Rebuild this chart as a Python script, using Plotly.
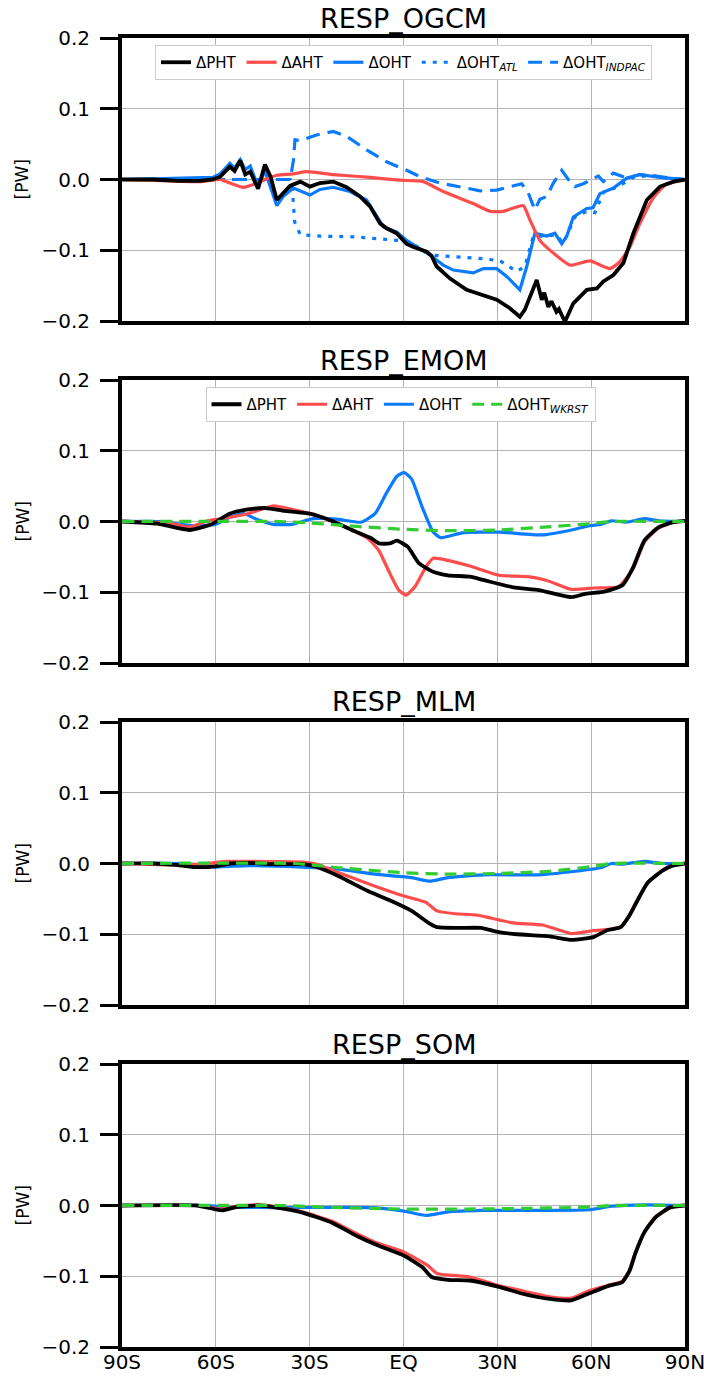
import plotly.graph_objects as go

# ---------------- data ----------------
# Panel 1: RESP_OGCM
ogcm_pht_lat = [-90, -80, -72, -65, -61, -58.6, -55.5, -54, -52.2, -50.6, -49, -46.5, -44.3, -42.5, -40.5, -38.5,
                -36.3, -33, -29.9, -26.7, -22.5, -18.2, -13.9, -10.7, -7.5, -5.4, -2.2, 1, 3, 7.4, 9, 10.6, 14.9,
                20.2, 23.9, 29.8, 34, 37.2, 38.8, 40.4, 42.6, 44.2, 45, 46.3, 47.3, 48.9, 49.7, 51.6, 54.3, 58.6,
                61.8, 63.9, 67.1, 70.3, 73.5, 77.8, 82, 86.3, 90]
ogcm_pht_val = [0, 0, -0.002, -0.002, 0.0, 0.004, 0.018, 0.012, 0.027, 0.007, 0.011, -0.013, 0.021, 0.004, -0.029,
                -0.019, -0.009, -0.003, -0.010, -0.005, -0.003, -0.011, -0.024, -0.038, -0.062, -0.069, -0.076,
                -0.091, -0.095, -0.102, -0.108, -0.123, -0.140, -0.156, -0.161, -0.170, -0.182, -0.194, -0.184,
                -0.166, -0.142, -0.170, -0.160, -0.180, -0.172, -0.187, -0.183, -0.201, -0.175, -0.156, -0.154,
                -0.144, -0.135, -0.118, -0.076, -0.029, -0.010, -0.003, 0]

ogcm_aht_lat = [-90, -75, -65, -58.6, -55.5, -51.2, -48, -43.7, -40.5, -35.2, -30.9, -22.5, -10.7, -1.1, 6.3, 12.7,
                22.3, 27.7, 31.9, 38.3, 40.4, 43.6, 47.9, 53.2, 59.6, 66, 69.2, 72.4, 75.6, 80, 84, 90]
ogcm_aht_val = [0, -0.002, -0.003, 0.0, -0.005, -0.011, -0.007, 0.001, 0.006, 0.008, 0.011, 0.007, 0.003, -0.001,
                -0.003, -0.017, -0.034, -0.045, -0.045, -0.037, -0.057, -0.086, -0.104, -0.121, -0.115, -0.126,
                -0.116, -0.095, -0.062, -0.025, -0.007, 0]

ogcm_oht_lat = [-90, -75, -61, -58.6, -55.5, -54, -52.2, -50.6, -49, -46.5, -44.3, -40.5, -38.5, -35.2, -29.9, -26.7,
                -22.5, -17.1, -11.8, -6.4, -2.2, 1, 8.5, 12.7, 15.9, 22.3, 25.5, 29.8, 33, 37.2, 39.4, 42, 45.8,
                48.4, 50.6, 52.2, 54.3, 58.6, 60.6, 62.8, 67.1, 71.4, 75.6, 82, 90]
ogcm_oht_val = [0, 0.002, 0.003, 0.008, 0.023, 0.016, 0.028, 0.014, 0.019, -0.010, 0.012, -0.037, -0.024, -0.012,
                -0.022, -0.014, -0.011, -0.017, -0.029, -0.067, -0.074, -0.086, -0.107, -0.121, -0.128, -0.132,
                -0.126, -0.126, -0.137, -0.156, -0.123, -0.076, -0.080, -0.076, -0.091, -0.080, -0.053, -0.041,
                -0.040, -0.020, -0.012, 0.002, 0.007, 0.003, 0]

ogcm_atl_lat = [-90, -36.2, -35.5, -34.8, -33, -26.7, -16, -5.4, 1, 9.5, 15.9, 25.5, 30.9, 36.2, 38.8, 41.5, 45.8,
                48.9, 51, 52.7, 54.8, 58.6, 61.2, 63.9, 68.2, 73.5, 78.9, 84, 90]
ogcm_atl_val = [0, 0, -0.015, -0.060, -0.078, -0.080, -0.081, -0.085, -0.087, -0.107, -0.109, -0.112, -0.115,
                -0.130, -0.123, -0.080, -0.080, -0.078, -0.090, -0.075, -0.053, -0.045, -0.047, -0.018, -0.011,
                0.003, 0.006, 0.002, 0]

ogcm_indpac_lat = [-90, -36.2, -35.2, -34.7, -33, -27.8, -22.5, -18.2, -11.8, -5.4, 1, 5.3, 11.7, 18.1, 24.5, 29.8,
                   35.1, 37.8, 39.9, 42, 43.6, 45.8, 47.9, 50.6, 52.7, 54.8, 57.5, 60.1, 62.3, 63.9, 67.1, 71.4,
                   75.6, 82, 90]
ogcm_indpac_val = [0, 0, 0.027, 0.056, 0.055, 0.063, 0.068, 0.061, 0.042, 0.025, 0.013, 0.004, -0.005, -0.011,
                   -0.016, -0.015, -0.009, -0.006, -0.019, -0.043, -0.028, -0.024, -0.005, 0.013, 0.0, -0.010,
                   -0.006, 0.0, 0.005, -0.003, 0.009, 0.002, 0.007, 0.004, 0]

# Panel 2: RESP_EMOM
emom_pht_lat = [-90, -78.8, -68.4, -61.4, -55.6, -49.8, -44, -38.1, -30, -23, -16, -10.2, -7.9, -4.4, -2.1, 1.4, 4.9,
                9.5, 14.2, 21.2, 25.8, 35.1, 43.3, 49.1, 53.7, 58.4, 64.2, 70, 73.5, 77, 81.6, 86.3, 90]
emom_pht_val = [0, -0.003, -0.012, -0.004, 0.011, 0.017, 0.019, 0.015, 0.011, 0.001, -0.013, -0.024, -0.031, -0.031,
                -0.027, -0.036, -0.059, -0.071, -0.076, -0.078, -0.083, -0.093, -0.097, -0.103, -0.107, -0.102,
                -0.099, -0.090, -0.064, -0.027, -0.008, -0.001, 0.001]

emom_aht_lat = [-90, -75, -68.4, -62.6, -55.6, -49.8, -41.6, -34.7, -27.7, -19.5, -11.4, -7.9, -4.4, -1.5, 0.8, 3.7,
                7.2, 9.5, 14.2, 21.2, 30.5, 39.8, 45.6, 53.7, 60.7, 68.8, 73.5, 77, 81.6, 86.3, 90]
emom_aht_val = [0, -0.002, -0.008, 0.001, 0.006, 0.011, 0.022, 0.016, 0.008, -0.006, -0.024, -0.041, -0.073, -0.097,
                -0.104, -0.092, -0.064, -0.052, -0.055, -0.063, -0.076, -0.078, -0.083, -0.096, -0.094, -0.092,
                -0.066, -0.029, -0.009, -0.001, 0.001]

emom_oht_lat = [-90, -78, -67.2, -60.2, -55.6, -50.9, -47.4, -41.6, -35.8, -28.8, -20.7, -13.7, -9.1, -5.6, -2.1, 0.2,
                2.6, 6, 9.5, 11.9, 18.8, 30.5, 44.4, 52.6, 59.5, 63, 66.5, 71.2, 77, 81.6, 90]
emom_oht_val = [0, 0, -0.006, -0.004, 0.006, 0.011, 0.004, -0.004, -0.004, 0.004, 0.003, -0.001, 0.011, 0.039, 0.064,
                0.069, 0.060, 0.020, -0.015, -0.023, -0.016, -0.015, -0.019, -0.013, -0.006, -0.004, 0.001, -0.001,
                0.004, 0.001, 0]

emom_wkrst_lat = [-90, -40, -30, -15, 0, 14, 30, 45, 60, 66, 90]
emom_wkrst_val = [0, 0, -0.002, -0.007, -0.011, -0.013, -0.012, -0.008, -0.003, 0, 0]

# Panel 3: RESP_MLM
mlm_pht_lat = [-90, -80, -73, -67.2, -60.2, -55.6, -49.8, -41.6, -32.3, -27.7, -20.7, -11.4, -4.4, 2.6, 8.4, 10.7,
               17.7, 24.7, 30.5, 36.3, 46.7, 53.7, 60.7, 65.3, 69.4, 72.3, 74.7, 78.1, 82.8, 86, 90]
mlm_pht_val = [0, 0, -0.002, -0.005, -0.004, 0.0, 0.001, -0.001, -0.001, -0.005, -0.018, -0.039, -0.052, -0.067,
               -0.085, -0.090, -0.091, -0.091, -0.097, -0.100, -0.103, -0.108, -0.104, -0.094, -0.090, -0.073,
               -0.053, -0.027, -0.010, -0.003, 0]

mlm_aht_lat = [-90, -75, -64.9, -56.7, -49.8, -32.3, -27.7, -20.7, -9.1, 0.2, 7.2, 10.7, 16.5, 23.5, 35.1, 44.4, 53.7,
               60.7, 67.7, 70, 72.3, 74.7, 78.1, 82.8, 86, 90]
mlm_aht_val = [0, -0.002, -0.001, 0.003, 0.003, 0.002, -0.001, -0.013, -0.032, -0.046, -0.055, -0.067, -0.071,
               -0.073, -0.084, -0.087, -0.099, -0.095, -0.092, -0.088, -0.072, -0.052, -0.027, -0.010, -0.003, 0]

mlm_oht_lat = [-90, -70, -60.2, -49.8, -32.3, -20.7, -9.1, 2.6, 8.4, 14.2, 25.8, 43.3, 54.9, 63, 66.5, 70, 77, 82.8, 90]
mlm_oht_val = [0, 0, -0.005, -0.003, -0.005, -0.008, -0.015, -0.020, -0.025, -0.020, -0.016, -0.016, -0.011, -0.006,
               0.0, -0.001, 0.003, 0.0, 0]

mlm_wkrst_lat = [-90, -35, -20.7, 0.2, 14.2, 30.5, 46.7, 60.7, 66.5, 90]
mlm_wkrst_val = [0, 0, -0.006, -0.013, -0.015, -0.014, -0.011, -0.004, 0, 0]

# Panel 4: RESP_SOM
som_pht_lat = [-90, -66, -62.6, -58, -53.3, -46.3, -40.5, -32.3, -23, -14.9, -7.9, 0.2, 6, 9, 14.2, 21.2, 30.5, 37.4,
               46.7, 53.7, 59.5, 65.3, 70, 72.3, 74.1, 77, 80.5, 85.1, 90]
som_pht_val = [0, 0, -0.003, -0.007, -0.002, 0.0, -0.003, -0.010, -0.024, -0.043, -0.057, -0.071, -0.087, -0.101,
               -0.105, -0.106, -0.115, -0.124, -0.132, -0.134, -0.124, -0.114, -0.108, -0.092, -0.068, -0.038, -0.017,
               -0.003, 0]

som_aht_lat = [-90, -66, -62.6, -58, -53.3, -46.3, -40.5, -32.3, -23, -14.9, -9.1, 0.2, 7.8, 10.7, 21.2, 30.5, 37.4,
               46.7, 53.7, 59.5, 65.3, 70, 72.3, 74.1, 77, 80.5, 85.1, 90]
som_aht_val = [0, 0, -0.002, -0.005, -0.001, 0.001, -0.002, -0.009, -0.022, -0.040, -0.052, -0.066, -0.085, -0.096,
               -0.101, -0.113, -0.120, -0.129, -0.131, -0.120, -0.113, -0.107, -0.091, -0.067, -0.037, -0.016,
               -0.003, 0]

som_oht_lat = [-90, -62, -58, -40, -10, 0.2, 7.2, 14.2, 25, 45, 59.5, 66.5, 77, 90]
som_oht_val = [0, 0, -0.002, -0.003, -0.003, -0.008, -0.014, -0.009, -0.007, -0.007, -0.006, -0.001, 0.001, 0]

som_wkrst_lat = [-90, -40, -20, 0, 20, 40, 60, 66, 90]
som_wkrst_val = [0, 0, -0.003, -0.005, -0.005, -0.004, -0.002, 0, 0]

titles = ["RESP_OGCM", "RESP_EMOM", "RESP_MLM", "RESP_SOM"]
x_tickvals = [-90, -60, -30, 0, 30, 60, 90]
x_ticktext = ["90S", "60S", "30S", "EQ", "30N", "60N", "90N"]
y_tickvals = [-0.2, -0.1, 0.0, 0.1, 0.2]
y_ticktext = ["\u22120.2", "\u22120.1", "0.0", "0.1", "0.2"]

# ---------------- style ----------------
BLACK = "#000000"
RED = "#ff4d4d"
BLUE = "#0a7bff"
GREEN = "#33cc33"
FONT = "DejaVu Sans, Liberation Sans, sans-serif"
W = 704
H = 1380
plot_x0, plot_x1 = 122, 685
panel_tops = [38, 380, 722, 1064]
panel_h = 283

fig = go.Figure()


def add(lat, val, color, dash, name, row, rank, legend="legend", show=False, width=3.2, shape="spline"):
    xa = "x" if row == 1 else f"x{row}"
    ya = "y" if row == 1 else f"y{row}"
    line = dict(color=color, width=width, dash=dash, shape=shape)
    if shape == "spline":
        line["smoothing"] = 0.5
    fig.add_trace(go.Scatter(
        x=lat, y=val, mode="lines", name=name, line=line,
        xaxis=xa, yaxis=ya, showlegend=show, legend=legend, legendrank=rank,
    ))


D = "\u0394"
DOT = "4px,7px"
DASH1 = "14px,8px"
DASH2 = "12px,7px"
# panel 1 (dashed/dotted first, then solid; legend order via legendrank)
add(ogcm_atl_lat, ogcm_atl_val, BLUE, DOT, D + "OHT<sub><i>ATL</i></sub>", 1, 4, "legend", True, shape="linear")
add(ogcm_indpac_lat, ogcm_indpac_val, BLUE, DASH1, D + "OHT<sub><i>INDPAC</i></sub>", 1, 5, "legend", True, shape="linear")
add(ogcm_oht_lat, ogcm_oht_val, BLUE, "solid", D + "OHT", 1, 3, "legend", True, shape="linear")
add(ogcm_aht_lat, ogcm_aht_val, RED, "solid", D + "AHT", 1, 2, "legend", True)
add(ogcm_pht_lat, ogcm_pht_val, BLACK, "solid", D + "PHT", 1, 1, "legend", True, 3.8, shape="linear")

# panel 2
add(emom_oht_lat, emom_oht_val, BLUE, "solid", D + "OHT", 2, 3, "legend2", True)
add(emom_aht_lat, emom_aht_val, RED, "solid", D + "AHT", 2, 2, "legend2", True)
add(emom_pht_lat, emom_pht_val, BLACK, "solid", D + "PHT", 2, 1, "legend2", True, 3.8)
add(emom_wkrst_lat, emom_wkrst_val, GREEN, DASH2, D + "OHT<sub><i>WKRST</i></sub>", 2, 4, "legend2", True)

# panel 3
add(mlm_oht_lat, mlm_oht_val, BLUE, "solid", D + "OHT", 3, 3)
add(mlm_aht_lat, mlm_aht_val, RED, "solid", D + "AHT", 3, 2)
add(mlm_pht_lat, mlm_pht_val, BLACK, "solid", D + "PHT", 3, 1, width=3.8)
add(mlm_wkrst_lat, mlm_wkrst_val, GREEN, DASH2, D + "OHT<sub><i>WKRST</i></sub>", 3, 4)

# panel 4
add(som_oht_lat, som_oht_val, BLUE, "solid", D + "OHT", 4, 3)
add(som_aht_lat, som_aht_val, RED, "solid", D + "AHT", 4, 2)
add(som_pht_lat, som_pht_val, BLACK, "solid", D + "PHT", 4, 1, width=3.8)
add(som_wkrst_lat, som_wkrst_val, GREEN, DASH2, D + "OHT<sub><i>WKRST</i></sub>", 4, 4)

layout = dict(
    width=W, height=H,
    margin=dict(l=0, r=0, t=0, b=0, autoexpand=False),
    paper_bgcolor="white", plot_bgcolor="white",
    font=dict(family=FONT, color="black", size=20),
)

annotations = []
for i in range(4):
    top = panel_tops[i]
    bot = top + panel_h
    dom_y = [1 - bot / H, 1 - top / H]
    xkey = "xaxis" if i == 0 else f"xaxis{i+1}"
    ykey = "yaxis" if i == 0 else f"yaxis{i+1}"
    yref = "y" if i == 0 else f"y{i+1}"
    xref = "x" if i == 0 else f"x{i+1}"
    layout[xkey] = dict(
        domain=[plot_x0 / W, plot_x1 / W], range=[-90, 90], anchor=yref,
        tickvals=x_tickvals, ticktext=x_ticktext, showticklabels=(i == 3),
        ticks="", ticklen=0, showgrid=True, gridcolor="#b3b3b3", gridwidth=1.3,
        showline=True, linecolor="black", linewidth=4, mirror=True,
        zeroline=False, tickfont=dict(size=20), ticklabelstandoff=-6,
        automargin=False, ticklabeloverflow="allow",
    )
    layout[ykey] = dict(
        domain=dom_y, range=[-0.2, 0.2], anchor=xref,
        tickvals=y_tickvals, ticktext=y_ticktext,
        ticks="outside", ticklen=18, tickwidth=3, tickcolor="black",
        showgrid=True, gridcolor="#b3b3b3", gridwidth=1.3,
        showline=True, linecolor="black", linewidth=4, mirror=True,
        zeroline=False, tickfont=dict(size=20), ticklabelstandoff=6,
        automargin=False, ticklabeloverflow="allow",
    )
    annotations.append(dict(
        text=titles[i], xref="paper", yref="paper",
        x=(plot_x0 + plot_x1) / 2 / W, y=1 - (top - 20) / H,
        xanchor="center", yanchor="middle", showarrow=False,
        font=dict(size=27, family=FONT),
    ))
    annotations.append(dict(
        text="[PW]", xref="paper", yref="paper",
        x=22 / W, y=1 - (top + panel_h / 2) / H, textangle=-90,
        xanchor="center", yanchor="middle", showarrow=False,
        font=dict(size=17, family=FONT),
    ))

layout["annotations"] = annotations
layout["legend"] = dict(
    orientation="h", x=403.5 / W, y=1 - 45 / H, xanchor="center", yanchor="top",
    xref="paper", yref="paper", bgcolor="white", bordercolor="#cccccc", borderwidth=1,
    font=dict(size=15, family=FONT), traceorder="normal", itemwidth=30,
)
layout["legend2"] = dict(
    orientation="h", x=400.5 / W, y=1 - 387 / H, xanchor="center", yanchor="top",
    xref="paper", yref="paper", bgcolor="white", bordercolor="#cccccc", borderwidth=1,
    font=dict(size=15, family=FONT), traceorder="normal", itemwidth=30,
)
fig.update_layout(**layout)

fig.write_html("out.html")
